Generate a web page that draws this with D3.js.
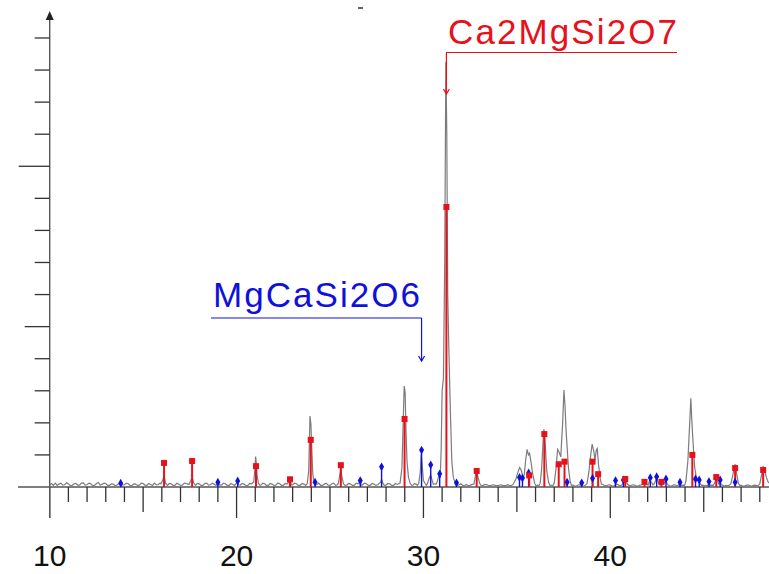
<!DOCTYPE html>
<html>
<head>
<meta charset="utf-8">
<script src="https://cdn.jsdelivr.net/npm/d3@7"></script>
<style>
  body { margin: 0; background: #fff; }
  svg { display: block; font-family: "Liberation Sans", Arial, sans-serif; }
</style>
</head>
<body>
<svg id="chart" width="769" height="574"></svg>
<script>
// measured pattern: [2theta, counts]
const pattern = [
  [10.0,6],[10.1,11],[10.2,5],[10.3,12],[10.4,5],[10.5,9],[10.6,12],[10.7,6],[10.8,7],[10.9,13],[11.0,9],[11.1,5],[11.2,4],[11.3,10],[11.4,11],[11.5,6],
  [11.6,6],[11.7,12],[11.8,13],[11.9,6],[12.0,7],[12.1,12],[12.2,10],[12.3,4],[12.4,5],[12.5,11],[12.6,14],[12.7,6],[12.8,8],[12.9,12],[13.0,11],[13.1,5],
  [13.2,5],[13.3,10],[13.4,9],[13.5,4],[13.6,6],[13.7,11],[13.8,12],[13.9,6],[14.0,7],[14.1,12],[14.2,10],[14.3,5],[14.4,4],[14.5,10],[14.6,9],[14.7,5],
  [14.8,6],[14.9,12],[15.0,11],[15.1,6],[15.2,5],[15.3,11],[15.4,8],[15.5,5],[15.6,12],[15.7,7],[15.8,7],[15.9,12],
  [15.95,10],[16.05,22],[16.12,34],[16.2,12],[16.3,5],[16.4,11],[16.5,10],[16.6,5],[16.7,5],[16.8,12],[16.9,9],[17.0,5],[17.1,6],[17.2,12],[17.3,11],
  [17.45,8],[17.55,20],[17.62,30],[17.7,14],[17.8,5],[17.9,11],[18.0,10],[18.1,5],[18.2,5],[18.3,11],[18.4,12],[18.5,6],[18.6,7],[18.7,12],[18.8,9],[18.9,5],
  [19.0,13],[19.1,6],[19.2,6],[19.3,12],[19.4,10],[19.5,5],[19.6,5],[19.7,11],[19.8,8],[19.9,5],[20.0,12],[20.1,7],[20.2,6],[20.3,11],[20.4,9],[20.5,4],[20.6,5],[20.7,11],[20.8,10],
  [20.92,16],[20.98,55],[21.02,95],[21.06,72],[21.1,35],[21.17,12],[21.25,5],[21.3,6],[21.4,12],[21.5,10],[21.6,5],[21.7,5],[21.8,11],[21.9,9],[22.0,5],
  [22.1,6],[22.2,12],[22.3,11],[22.4,5],[22.5,5],[22.6,11],[22.7,9],[22.86,20],[22.95,6],[23.0,7],[23.1,12],[23.2,10],[23.3,5],[23.4,5],[23.5,11],[23.6,9],[23.7,5],[23.78,10],
  [23.86,50],[23.93,221],[23.98,195],[24.03,110],[24.08,40],[24.15,14],[24.22,6],[24.3,8],[24.4,12],[24.5,5],[24.6,5],[24.7,9],[24.8,12],[24.9,6],[25.0,5],
  [25.1,10],[25.2,12],[25.3,5],[25.38,6],[25.45,12],[25.53,40],[25.58,59],[25.63,35],[25.72,10],[25.8,5],[25.9,6],[26.0,11],[26.1,9],[26.2,5],[26.3,5],[26.4,12],
  [26.5,10],[26.62,16],[26.7,5],[26.75,7],[26.85,12],[26.95,10],[27.05,5],[27.15,5],[27.25,11],[27.35,9],[27.45,5],[27.55,7],[27.7,14],[27.76,24],[27.83,12],
  [27.9,5],[28.0,6],[28.1,11],[28.2,10],[28.3,5],[28.4,5],[28.5,11],[28.6,8],[28.75,12],[28.85,60],[28.92,210],[28.97,315],[29.02,295],[29.07,170],
  [29.12,80],[29.2,30],[29.3,10],[29.38,5],[29.45,6],[29.52,11],[29.6,9],[29.68,5],[29.75,12],[29.83,45],[29.88,103],[29.93,70],[30.0,20],
  [30.1,10],[30.16,5],[30.22,12],[30.32,30],[30.39,37],[30.46,22],[30.53,8],[30.6,10],[30.68,9],[30.75,18],[30.83,37],[30.9,28],
  [30.95,120],[31.0,300],[31.07,340],[31.14,700],[31.2,1325],[31.25,1100],[31.3,600],[31.36,430],[31.45,220],[31.52,80],
  [31.6,30],[31.68,15],[31.77,12],[31.85,5],[31.9,6],[32.0,10],[32.1,5],[32.2,4],[32.3,8],[32.4,4],[32.5,5],[32.6,8],[32.7,9],[32.8,40],[32.85,53],
  [32.92,30],[33.02,10],[33.1,4],[33.2,5],[33.3,8],[33.4,7],[33.5,4],[33.6,4],[33.7,7],[33.8,6],[33.9,4],[34.0,4],[34.1,7],[34.2,6],[34.3,4],[34.4,4],[34.5,7],[34.6,5],
  [34.7,4],[34.8,8],[34.95,25],[35.05,45],[35.15,61],[35.25,50],[35.33,25],[35.4,40],[35.47,85],[35.55,117],[35.62,100],
  [35.68,105],[35.75,80],[35.85,40],[35.95,12],[36.02,4],[36.1,6],[36.18,4],[36.25,12],[36.33,60],[36.4,140],[36.45,180],[36.52,130],
  [36.6,50],[36.7,14],[36.78,4],[36.85,6],[36.92,4],[37.0,12],[37.1,60],[37.18,117],[37.25,110],[37.35,94],[37.45,200],[37.52,302],
  [37.58,250],[37.63,178],[37.7,115],[37.76,60],[37.85,18],[37.92,5],[38.0,6],[38.1,3],[38.2,4],[38.3,7],[38.4,6],[38.5,3],[38.6,4],[38.68,6],[38.75,10],
  [38.85,45],[38.95,100],[39.03,134],[39.12,110],[39.18,84],[39.25,115],[39.3,120],[39.37,70],[39.45,30],[39.52,10],[39.6,8],[39.7,4],
  [39.8,4],[39.9,7],[40.0,6],[40.1,3],[40.2,4],[40.3,8],[40.4,8],[40.5,4],[40.6,6],[40.75,15],[40.82,22],[40.9,10],[41.0,5],[41.1,4],[41.2,7],[41.3,6],
  [41.4,3],[41.5,4],[41.6,6],[41.7,7],[41.83,16],[41.95,8],[42.02,6],[42.1,20],[42.2,15],[42.28,6],[42.35,10],[42.48,28],[42.58,12],[42.66,6],[42.74,16],
  [42.85,10],[42.98,20],[43.05,8],[43.1,6],[43.2,3],[43.3,4],[43.4,7],[43.5,6],[43.6,3],[43.73,12],[43.8,5],[43.9,6],[43.98,5],[44.05,20],[44.15,80],[44.25,200],
  [44.31,277],[44.36,210],[44.41,157],[44.46,110],[44.52,60],[44.6,30],[44.7,20],[44.8,12],[44.88,5],[44.95,6],[45.02,3],[45.1,5],[45.2,4],
  [45.28,12],[45.36,5],[45.45,6],[45.52,5],[45.6,15],[45.67,31],[45.75,18],[45.82,8],[45.88,15],[45.95,6],[46.0,6],[46.1,3],[46.2,5],[46.3,4],[46.38,6],[46.45,10],[46.55,35],
  [46.63,60],[46.68,71],[46.75,45],[46.85,12],[46.92,5],[47.0,5],[47.1,3],[47.2,4],[47.3,6],[47.4,6],[47.5,3],[47.6,4],[47.7,6],[47.8,5],[47.9,4],[48.0,10],
  [48.1,40],[48.18,63],[48.25,55],[48.35,30],[48.45,15],[48.6,8]
];

// Ca2MgSi2O7 reference lines
const akermanite = [
  [16.12,75],[17.62,81],[21.04,65],[22.86,24],[23.97,147],[25.58,68],[28.99,212],[31.23,873],
  [32.85,50],[35.66,36],[36.47,165],[37.24,71],[37.55,79],[39.05,79],[39.35,40],[40.8,25],
  [41.83,16],[42.74,16],[44.39,100],[45.67,31],[46.68,59],[48.18,53]
];

// MgCaSi2O6 reference lines
const diopside = [
  [13.8,12],[19.0,15],[20.06,19],[24.2,15],[26.62,20],[27.76,63],[29.9,115],[30.39,69],
  [30.87,41],[31.77,13],[35.14,30],[35.3,28],[35.63,44],[37.69,15],[38.47,13],[39.05,27],
  [40.28,20],[40.7,22],[42.14,29],[42.48,32],[42.98,25],[43.73,15],[44.56,25],[44.76,22],
  [45.28,17],[45.88,22],[46.68,15]
];

const majorTicks = [10, 20, 30, 40];
const redLabel = 'Ca2MgSi2O7';
const blueLabel = 'MgCaSi2O6';

const svg = d3.select('#chart');
const width = 769, height = 574;
const RED = '#e8101a', BLUE = '#1010dd', AXIS = '#333';

const x = d3.scaleLinear().domain([10, 40]).range([49.7, 610.3]);
const y = d3.scaleLinear().domain([0, 1481]).range([487, 12]);

svg.append('rect').attr('width', width).attr('height', height).attr('fill', '#fff');

// x axis: baseline + ticks every degree
const xTickVals = d3.range(10, 49);
svg.append('line')
    .attr('x1', 18).attr('x2', width).attr('y1', y(0)).attr('y2', y(0))
    .attr('stroke', '#555').attr('stroke-width', 1.4);
svg.append('g').selectAll('line').data(xTickVals).join('line')
    .attr('x1', d => x(d)).attr('x2', d => x(d))
    .attr('y1', y(0))
    .attr('y2', d => y(0) + (d % 10 === 0 ? 31 : d % 5 === 0 ? 25 : 15))
    .attr('stroke', AXIS).attr('stroke-width', 1.3);
svg.append('g').selectAll('text').data(majorTicks).join('text')
    .attr('x', d => x(d)).attr('y', 566)
    .attr('text-anchor', 'middle').attr('font-size', 30).attr('fill', '#111')
    .text(d => d);

// y axis with arrow
const yTickVals = d3.range(0, 1401, 100);
svg.append('line')
    .attr('x1', x(10)).attr('x2', x(10)).attr('y1', 16).attr('y2', 518)
    .attr('stroke', '#555').attr('stroke-width', 1.4);
svg.append('path')
    .attr('d', `M${x(10)},11 L${x(10) - 4},20 L${x(10) + 4},20 Z`)
    .attr('fill', '#222');
svg.append('g').selectAll('line').data(yTickVals.slice(1)).join('line')
    .attr('x1', d => x(10) - (d % 1000 === 0 ? 31 : d % 500 === 0 ? 25 : 15))
    .attr('x2', x(10))
    .attr('y1', d => y(d)).attr('y2', d => y(d))
    .attr('stroke', AXIS).attr('stroke-width', 1.3);

// small mark at top
svg.append('line').attr('x1', 358).attr('x2', 363).attr('y1', 8).attr('y2', 8)
    .attr('stroke', '#333').attr('stroke-width', 1.5);

// measured pattern
const line = d3.line().x(d => x(d[0])).y(d => y(d[1]));
svg.append('path').datum(pattern)
    .attr('d', line)
    .attr('fill', 'none').attr('stroke', '#7c7c7c').attr('stroke-width', 1.2);

// stick lines
svg.append('g').selectAll('line').data(diopside).join('line')
    .attr('x1', d => x(d[0])).attr('x2', d => x(d[0]))
    .attr('y1', y(0)).attr('y2', d => y(d[1]))
    .attr('stroke', BLUE).attr('stroke-width', 1.4);
svg.append('g').selectAll('line').data(akermanite).join('line')
    .attr('x1', d => x(d[0])).attr('x2', d => x(d[0]))
    .attr('y1', y(0)).attr('y2', d => y(d[1]))
    .attr('stroke', RED).attr('stroke-width', 2);

svg.append('g').selectAll('path').data(diopside).join('path')
    .attr('transform', d => `translate(${x(d[0])},${y(d[1])})`)
    .attr('d', d3.symbol(d3.symbolDiamond, 22))
    .attr('fill', BLUE);
svg.append('g').selectAll('rect').data(akermanite).join('rect')
    .attr('x', d => x(d[0]) - 3).attr('y', d => y(d[1]) - 3)
    .attr('width', 6).attr('height', 6)
    .attr('fill', RED);

// phase labels with leader arrows
function label(text, color, tx, ty, tlen, lineY, arrowX, arrowY) {
  const g = svg.append('g');
  g.append('text')
      .attr('x', tx).attr('y', ty)
      .attr('font-size', 35).attr('fill', color)
      .attr('textLength', tlen).attr('lengthAdjust', 'spacing')
      .text(text);
  g.append('path')
      .attr('d', `M${tx - 2},${lineY} H${Math.max(arrowX, tx + tlen)} M${arrowX},${lineY} V${arrowY}`)
      .attr('fill', 'none').attr('stroke', color).attr('stroke-width', 1.2);
  g.append('path')
      .attr('d', `M${arrowX - 3},${arrowY - 5} L${arrowX},${arrowY} L${arrowX + 3},${arrowY - 5}`)
      .attr('fill', 'none').attr('stroke', color).attr('stroke-width', 1.2);
}
label(redLabel, RED, 448, 43.5, 229, 52.5, x(31.23), 94);
label(blueLabel, BLUE, 213, 307, 207, 318, x(29.9), 361);
</script>
</body>
</html>
